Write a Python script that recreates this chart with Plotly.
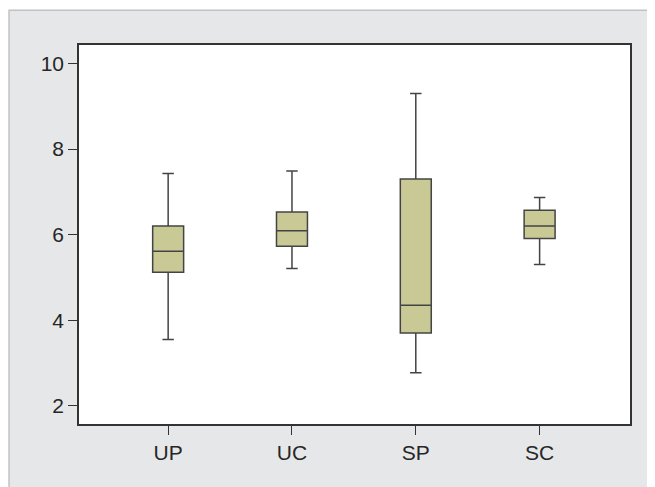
import plotly.graph_objects as go

categories = ["UP", "UC", "SP", "SC"]
lower_fence = [3.55, 5.21, 2.77, 5.30]
q1 = [5.12, 5.73, 3.70, 5.91]
median = [5.61, 6.09, 4.35, 6.20]
q3 = [6.20, 6.53, 7.30, 6.57]
upper_fence = [7.43, 7.49, 9.30, 6.87]
y_ticks = [2, 4, 6, 8, 10]

fig = go.Figure()
fig.add_trace(go.Box(
    x=categories, q1=q1, median=median, q3=q3,
    lowerfence=lower_fence, upperfence=upper_fence,
    boxpoints=False, width=0.25, whiskerwidth=0.37,
    fillcolor="#C9C996", line=dict(color="#444444", width=1.5),
    showlegend=False, hoverinfo="skip",
))

fig.update_layout(
    width=647, height=479,
    margin=dict(l=71, r=25, t=37, b=63),
    paper_bgcolor="white", plot_bgcolor="white",
    font=dict(family="Liberation Sans, Arial, sans-serif", size=21, color="#262626"),
    shapes=[
        dict(type="rect", xref="paper", yref="paper", x0=-0.127, x1=1.1, y0=-0.25, y1=1.092,
             fillcolor="#E6E7E9", line=dict(color="#C2C2C2", width=1.5), layer="below"),
        dict(type="rect", xref="paper", yref="paper", x0=0, x1=1, y0=0, y1=1,
             fillcolor="white", line=dict(width=0), layer="below"),
    ],
)
fig.update_xaxes(type="category", range=[-0.72, 3.73], showgrid=False, zeroline=False,
                 showline=True, linecolor="#333333", linewidth=1.5, mirror=True,
                 ticks="outside", ticklen=9, tickcolor="#333333", tickwidth=1)
fig.update_yaxes(range=[1.571, 10.436], tickvals=y_ticks, showgrid=False, zeroline=False,
                 showline=True, linecolor="#333333", linewidth=1.5, mirror=True,
                 ticks="outside", ticklen=9, tickcolor="#333333", tickwidth=1)

fig.write_html("out.html")
